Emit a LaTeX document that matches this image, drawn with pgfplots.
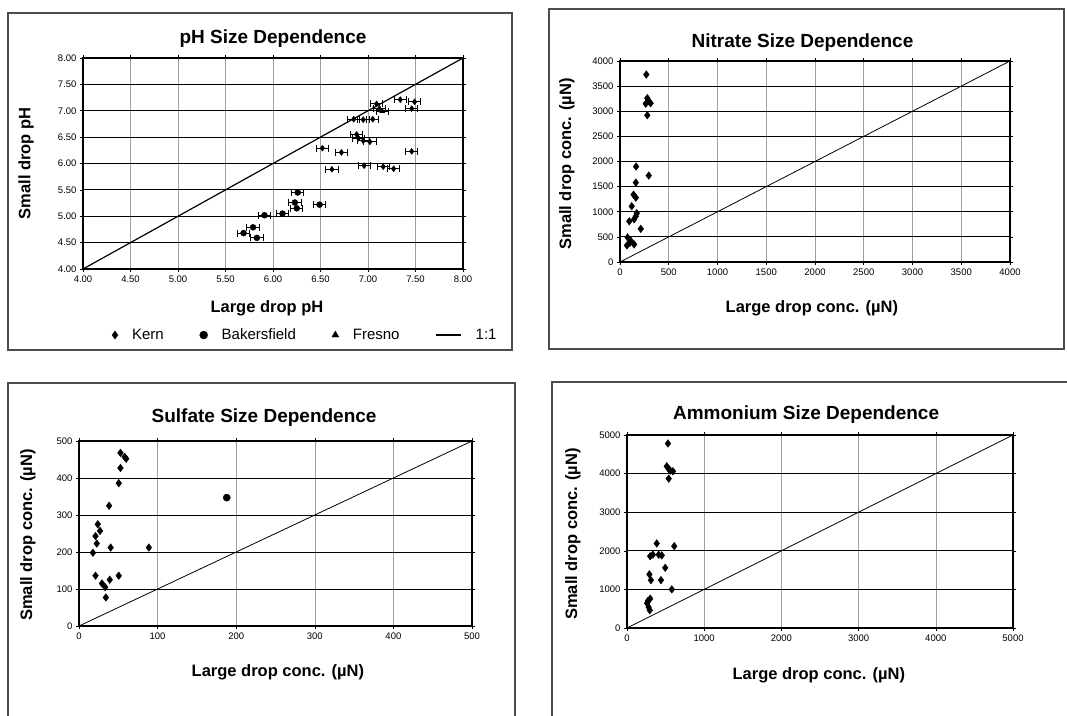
\documentclass[border=0pt]{standalone}
\usepackage{pgfplots}
\pgfplotsset{compat=1.18}
\usepackage{fontspec}
\setmainfont{Liberation Sans}
\setsansfont{Liberation Sans}

% common look of the four panels
\pgfplotsset{
  panel/.style={
    scale only axis, anchor=south west,
    axis line style={line width=1.1pt},
    grid=major,
    x grid style={gray!75, line width=0.6pt},
    y grid style={black, line width=0.9pt},
    tick align=outside, major tick length=3pt,
    tick style={black, line width=0.6pt},
    tick label style={font=\fontsize{9.5}{11}\selectfont},
    /pgf/number format/assume math mode=true,
    /pgf/number format/1000 sep={},
    title style={font=\fontsize{19}{22}\selectfont\bfseries, anchor=center, yshift=-8pt},
    label style={font=\fontsize{16.5}{19}\selectfont\bfseries},
    xlabel style={anchor=center},
    ylabel style={anchor=center},
  },
  kern/.style={only marks, mark=diamond*, mark size=3.8pt, black},
  oneone/.style={black, line width=0.8pt, no marks},
  phbars/.style={error bars/.cd, x dir=both, x fixed=0.065,
    error mark=|,
    error bar style={line width=1pt, black},
    error mark options={mark size=3.5pt, line width=1pt, black}},
}

\begin{document}
\begin{tikzpicture}[x=1pt,y=1pt]
\useasboundingbox (0,0) rectangle (1067,715);

% panel frames
\draw[gray!60!black, line width=1.1pt] (8,365) rectangle (512,702);
\draw[gray!60!black, line width=1.1pt] (549,366) rectangle (1064,706);
\draw[gray!60!black, line width=1.1pt] (8,-5) rectangle (515,332);
\draw[gray!60!black, line width=1.1pt] (552,-5) rectangle (1072,333);

% ---------------- pH ----------------
\begin{axis}[panel,
  at={(83pt,446pt)}, width=380pt, height=211pt,
  xmin=4, xmax=8, ymin=4, ymax=8,
  xtick={4,4.5,...,8}, ytick={4,4.5,...,8},
  xticklabel style={/pgf/number format/.cd, fixed, fixed zerofill, precision=2},
  yticklabel style={/pgf/number format/.cd, fixed, fixed zerofill, precision=2},
  title={pH Size Dependence},
  title style={at={(axis description cs:0.5,1.10)}},
  xlabel={Large drop pH},
  xlabel style={at={(axis description cs:0.484,-0.185)}},
  ylabel={Small drop pH},
  ylabel style={at={(axis description cs:-0.150,0.5)}},
  legend columns=4,
  legend style={at={(axis description cs:0.585,-0.313)}, anchor=center,
    draw=none, fill=none, font=\fontsize{15}{17}\selectfont,
    /tikz/every odd column/.append style={column sep=12pt},
    /tikz/every even column/.append style={column sep=34pt}},
  legend cell align=left,
  legend image post style={mark size=4pt},
]
\addplot[only marks, mark=diamond*, mark size=3pt, black, phbars]
  table {
x y
7.09 7.13
7.34 7.21
7.49 7.17
7.46 7.04
6.85 6.84
6.95 6.83
7.05 6.84
6.88 6.55
6.90 6.48
6.95 6.43
7.02 6.41
6.52 6.29
6.72 6.21
7.46 6.23
6.62 5.89
6.96 5.96
7.16 5.94
7.27 5.90
};
\addlegendentry{Kern}
\addplot[only marks, mark=*, mark size=3pt, black, phbars]
  table {
x y
6.26 5.45
6.23 5.26
6.25 5.15
6.49 5.22
6.10 5.05
5.91 5.02
5.79 4.79
5.69 4.68
5.83 4.59
};
\addlegendentry{Bakersfield}
\addplot[only marks, mark=triangle*, mark size=3pt, black, phbars]
  table {
x y
7.12 7.05
7.15 6.99
};
\addlegendentry{Fresno}
\addplot[black, line width=1.2pt, no marks,
  legend image code/.code={\draw[black, line width=1.2pt] (0pt,0pt) -- (25pt,0pt);}]
  coordinates {(4,4) (8,8)};
\addlegendentry{1:1}
\end{axis}

% ---------------- Nitrate ----------------
\begin{axis}[panel,
  at={(620pt,453pt)}, width=390pt, height=201pt,
  xmin=0, xmax=4000, ymin=0, ymax=4000,
  xtick={0,500,...,4000}, ytick={0,500,...,4000},
  scaled ticks=false,
  title={Nitrate Size Dependence},
  title style={at={(axis description cs:0.468,1.104)}},
  xlabel={Large drop conc. (µN)},
  xlabel style={at={(axis description cs:0.492,-0.229)}},
  ylabel={Small drop conc. (µN)},
  ylabel style={at={(axis description cs:-0.136,0.488)}},
]
\addplot[oneone] coordinates {(0,0) (4000,4000)};
\addplot[kern] table {
x y
270 3730
280 3260
297 3200
314 3160
264 3150
280 2920
165 1900
295 1720
162 1580
139 1340
162 1280
120 1110
172 970
162 910
145 850
95 810
213 660
78 490
111 420
100 380
145 350
71 330
};
\end{axis}

% ---------------- Sulfate ----------------
\begin{axis}[panel,
  at={(79pt,89pt)}, width=393pt, height=185pt,
  xmin=0, xmax=500, ymin=0, ymax=500,
  xtick={0,100,...,500}, ytick={0,100,...,500},
  title={Sulfate Size Dependence},
  title style={at={(axis description cs:0.471,1.14)}},
  xlabel={Large drop conc. (µN)},
  xlabel style={at={(axis description cs:0.506,-0.249)}},
  ylabel={Small drop conc. (µN)},
  ylabel style={at={(axis description cs:-0.130,0.492)}},
]
\addplot[oneone] coordinates {(0,0) (500,500)};
\addplot[kern] table {
x y
52.7 468
58 457
60 452
52.7 427
50.6 386
38.3 325
23.9 275
26.7 257
21 243
22.6 223
17.7 198
40.3 212
88.9 212
21 136
29.2 115
33.3 105
39.1 125
50.6 136
34.2 77
};
\addplot[only marks, mark=*, mark size=3.6pt, black] table {
x y
188 347
};
\end{axis}

% ---------------- Ammonium ----------------
\begin{axis}[panel,
  at={(627pt,87pt)}, width=386pt, height=193pt,
  xmin=0, xmax=5000, ymin=0, ymax=5000,
  xtick={0,1000,...,5000}, ytick={0,1000,...,5000},
  scaled ticks=false,
  title={Ammonium Size Dependence},
  title style={at={(axis description cs:0.464,1.114)}},
  xlabel={Large drop conc. (µN)},
  xlabel style={at={(axis description cs:0.497,-0.244)}},
  ylabel={Small drop conc. (µN)},
  ylabel style={at={(axis description cs:-0.140,0.487)}},
]
\addplot[oneone] coordinates {(0,0) (5000,5000)};
\addplot[kern] table {
x y
530 4780
515 4190
540 4120
560 4080
595 4060
540 3870
385 2190
612 2120
300 1860
335 1900
410 1900
450 1880
495 1560
290 1390
310 1240
440 1240
580 1000
300 760
270 700
260 640
280 540
295 460
};
\end{axis}
\end{tikzpicture}
\end{document}
